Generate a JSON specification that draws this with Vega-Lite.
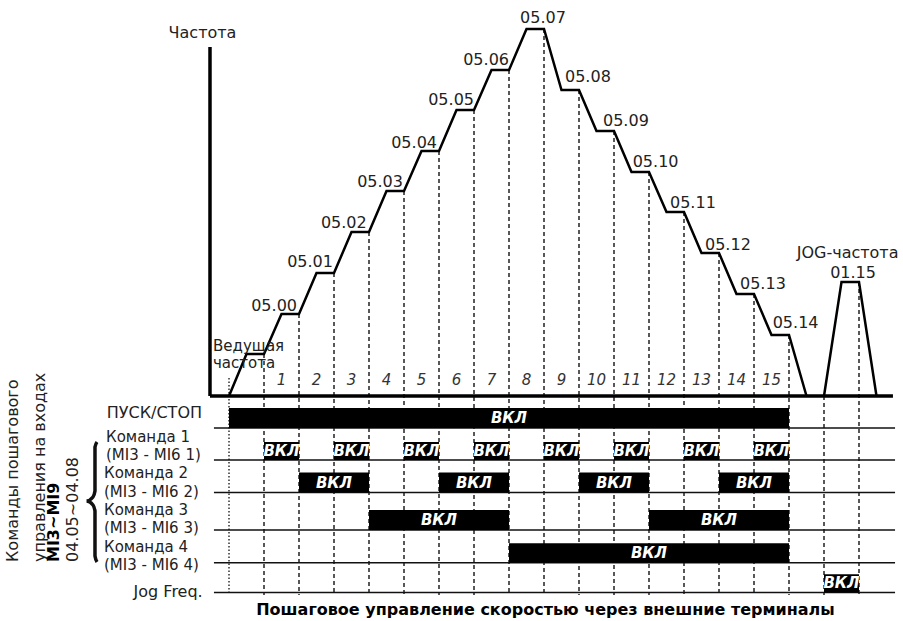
{
  "$schema": "https://vega.github.io/schema/vega-lite/v6.json",
  "width": 903,
  "height": 621,
  "padding": 0,
  "autosize": {"type": "none"},
  "background": "white",
  "config": {"view": {"stroke": null}, "text": {"font": "DejaVu Sans", "color": "#222"}},
  "datasets": {
    "curve": [
      {"s": "main", "t": 0, "v": 0}, {"s": "main", "t": 0.5, "v": 42}, {"s": "main", "t": 1, "v": 42},
      {"s": "main", "t": 1.5, "v": 82}, {"s": "main", "t": 2, "v": 82},
      {"s": "main", "t": 2.5, "v": 123}, {"s": "main", "t": 3, "v": 123},
      {"s": "main", "t": 3.5, "v": 164}, {"s": "main", "t": 4, "v": 164},
      {"s": "main", "t": 4.5, "v": 205}, {"s": "main", "t": 5, "v": 205},
      {"s": "main", "t": 5.5, "v": 245}, {"s": "main", "t": 6, "v": 245},
      {"s": "main", "t": 6.5, "v": 286}, {"s": "main", "t": 7, "v": 286},
      {"s": "main", "t": 7.5, "v": 326}, {"s": "main", "t": 8, "v": 326},
      {"s": "main", "t": 8.5, "v": 367}, {"s": "main", "t": 9, "v": 367},
      {"s": "main", "t": 9.5, "v": 306}, {"s": "main", "t": 10, "v": 306},
      {"s": "main", "t": 10.5, "v": 265}, {"s": "main", "t": 11, "v": 265},
      {"s": "main", "t": 11.5, "v": 224}, {"s": "main", "t": 12, "v": 224},
      {"s": "main", "t": 12.5, "v": 184}, {"s": "main", "t": 13, "v": 184},
      {"s": "main", "t": 13.5, "v": 143}, {"s": "main", "t": 14, "v": 143},
      {"s": "main", "t": 14.5, "v": 102}, {"s": "main", "t": 15, "v": 102},
      {"s": "main", "t": 15.5, "v": 61}, {"s": "main", "t": 16, "v": 61},
      {"s": "main", "t": 16.5, "v": 0},
      {"s": "jog", "t": 17, "v": 0}, {"s": "jog", "t": 17.5, "v": 114}, {"s": "jog", "t": 18, "v": 114}, {"s": "jog", "t": 18.5, "v": 0}
    ],
    "dashed": [
      {"t": 1, "top": 42, "bot": -199}, {"t": 2, "top": 82, "bot": -199}, {"t": 3, "top": 123, "bot": -199},
      {"t": 4, "top": 164, "bot": -199}, {"t": 5, "top": 205, "bot": -199}, {"t": 6, "top": 245, "bot": -199},
      {"t": 7, "top": 286, "bot": -199}, {"t": 8, "top": 326, "bot": -199}, {"t": 9, "top": 367, "bot": -199},
      {"t": 10, "top": 306, "bot": -199}, {"t": 11, "top": 265, "bot": -199}, {"t": 12, "top": 224, "bot": -199},
      {"t": 13, "top": 184, "bot": -199}, {"t": 14, "top": 143, "bot": -199}, {"t": 15, "top": 102, "bot": -199},
      {"t": 16, "top": 61, "bot": -199}, {"t": 17, "top": 0, "bot": -199}, {"t": 18, "top": 114, "bot": -199}
    ],
    "dotted": [{"t": 0, "top": 18, "bot": -199}],
    "rowlines": [
      {"row": "ПУСК/СТОП", "v": -32}, {"row": "Команда 1", "v": -64}, {"row": "Команда 2", "v": -96.5},
      {"row": "Команда 3", "v": -134}, {"row": "Команда 4", "v": -166.7}, {"row": "Jog Freq.", "v": -196.5}
    ],
    "frame": [
      {"t": -0.543, "t2": -0.543, "v": 0, "v2": 349},
      {"t": -0.543, "t2": 18.97, "v": 0, "v2": 0}
    ],
    "bars": [
      {"row": "ПУСК/СТОП", "t0": 0, "t1": 16, "lo": -32, "hi": -12},
      {"row": "Команда 1", "t0": 1, "t1": 2, "lo": -64, "hi": -46},
      {"row": "Команда 1", "t0": 3, "t1": 4, "lo": -64, "hi": -46},
      {"row": "Команда 1", "t0": 5, "t1": 6, "lo": -64, "hi": -46},
      {"row": "Команда 1", "t0": 7, "t1": 8, "lo": -64, "hi": -46},
      {"row": "Команда 1", "t0": 9, "t1": 10, "lo": -64, "hi": -46},
      {"row": "Команда 1", "t0": 11, "t1": 12, "lo": -64, "hi": -46},
      {"row": "Команда 1", "t0": 13, "t1": 14, "lo": -64, "hi": -46},
      {"row": "Команда 1", "t0": 15, "t1": 16, "lo": -64, "hi": -46},
      {"row": "Команда 2", "t0": 2, "t1": 4, "lo": -96.5, "hi": -76.5},
      {"row": "Команда 2", "t0": 6, "t1": 8, "lo": -96.5, "hi": -76.5},
      {"row": "Команда 2", "t0": 10, "t1": 12, "lo": -96.5, "hi": -76.5},
      {"row": "Команда 2", "t0": 14, "t1": 16, "lo": -96.5, "hi": -76.5},
      {"row": "Команда 3", "t0": 4, "t1": 8, "lo": -134, "hi": -114},
      {"row": "Команда 3", "t0": 12, "t1": 16, "lo": -134, "hi": -114},
      {"row": "Команда 4", "t0": 8, "t1": 16, "lo": -166.7, "hi": -147.3},
      {"row": "Jog Freq.", "t0": 17, "t1": 18, "lo": -196.5, "hi": -178.3}
    ],
    "onlabels": [
      {"t": 8, "v": -22, "label": "ВКЛ"},
      {"t": 1.5, "v": -55, "label": "ВКЛ"}, {"t": 3.5, "v": -55, "label": "ВКЛ"}, {"t": 5.5, "v": -55, "label": "ВКЛ"},
      {"t": 7.5, "v": -55, "label": "ВКЛ"}, {"t": 9.5, "v": -55, "label": "ВКЛ"}, {"t": 11.5, "v": -55, "label": "ВКЛ"},
      {"t": 13.5, "v": -55, "label": "ВКЛ"}, {"t": 15.5, "v": -55, "label": "ВКЛ"},
      {"t": 3, "v": -86.5, "label": "ВКЛ"}, {"t": 7, "v": -86.5, "label": "ВКЛ"}, {"t": 11, "v": -86.5, "label": "ВКЛ"}, {"t": 15, "v": -86.5, "label": "ВКЛ"},
      {"t": 6, "v": -124, "label": "ВКЛ"}, {"t": 14, "v": -124, "label": "ВКЛ"},
      {"t": 12, "v": -157, "label": "ВКЛ"},
      {"t": 17.5, "v": -187.4, "label": "ВКЛ"}
    ],
    "brace": [
      {"i": 0, "t": -3.771, "v": -46}, {"i": 1, "t": -3.829, "v": -51}, {"i": 2, "t": -3.829, "v": -95},
      {"i": 3, "t": -3.886, "v": -101}, {"i": 4, "t": -4.071, "v": -105}, {"i": 5, "t": -3.886, "v": -109},
      {"i": 6, "t": -3.829, "v": -115}, {"i": 7, "t": -3.829, "v": -160}, {"i": 8, "t": -3.771, "v": -166}
    ],
    "lblRight": [
      {"t": 1.943, "v": 90, "label": "05.00"}, {"t": 2.971, "v": 134.3, "label": "05.01"},
      {"t": 3.934, "v": 173, "label": "05.02"}, {"t": 4.971, "v": 214.3, "label": "05.03"},
      {"t": 5.943, "v": 253.3, "label": "05.04"}, {"t": 7.0, "v": 296, "label": "05.05"},
      {"t": 8.0, "v": 336, "label": "05.06"}
    ],
    "lblLeft": [
      {"t": 9.6, "v": 319.3, "label": "05.08"}, {"t": 10.686, "v": 275.3, "label": "05.09"},
      {"t": 11.534, "v": 234.3, "label": "05.10"}, {"t": 12.6, "v": 193.3, "label": "05.11"},
      {"t": 13.6, "v": 151, "label": "05.12"}, {"t": 14.6, "v": 112, "label": "05.13"},
      {"t": 15.534, "v": 72.7, "label": "05.14"}, {"t": 16.22, "v": 142.7, "label": "JOG-частота"}
    ],
    "lblCenter": [
      {"t": 8.971, "v": 377.7, "label": "05.07"}, {"t": 17.83, "v": 122.7, "label": "01.15"},
      {"t": -0.757, "v": 363, "label": "Частота"}
    ],
    "lblMaster": [
      {"t": -0.457, "v": 50.3, "label": "Ведущая"}, {"t": -0.457, "v": 33, "label": "частота"}
    ],
    "steps": [
      {"t": 1.5, "v": 16, "label": "1"}, {"t": 2.5, "v": 16, "label": "2"}, {"t": 3.5, "v": 16, "label": "3"},
      {"t": 4.5, "v": 16, "label": "4"}, {"t": 5.5, "v": 16, "label": "5"}, {"t": 6.5, "v": 16, "label": "6"},
      {"t": 7.5, "v": 16, "label": "7"}, {"t": 8.5, "v": 16, "label": "8"}, {"t": 9.5, "v": 16, "label": "9"},
      {"t": 10.5, "v": 16, "label": "10"}, {"t": 11.5, "v": 16, "label": "11"}, {"t": 12.5, "v": 16, "label": "12"},
      {"t": 13.5, "v": 16, "label": "13"}, {"t": 14.5, "v": 16, "label": "14"}, {"t": 15.5, "v": 16, "label": "15"}
    ],
    "rowLabelsLeft": [
      {"t": -3.514, "v": -40.7, "label": "Команда 1"}, {"t": -3.514, "v": -59, "label": "(MI3 - MI6 1)"},
      {"t": -3.571, "v": -77.3, "label": "Команда 2"}, {"t": -3.571, "v": -95.7, "label": "(MI3 - MI6  2)"},
      {"t": -3.571, "v": -114, "label": "Команда 3"}, {"t": -3.571, "v": -132.3, "label": "(MI3 - MI6  3)"},
      {"t": -3.571, "v": -150.7, "label": "Команда 4"}, {"t": -3.571, "v": -169, "label": "(MI3 - MI6  4)"}
    ],
    "rowLabelsRight": [
      {"t": -0.771, "v": -17, "label": "ПУСК/СТОП"}, {"t": -0.751, "v": -195.7, "label": "Jog Freq."}
    ],
    "rotated": [
      {"t": -6.171, "v": -166, "label": "Команды пошагового"},
      {"t": -5.4, "v": -166, "label": "управления на входах"},
      {"t": -4.457, "v": -166, "label": "04.05~04.08"}
    ],
    "rotatedBold": [
      {"t": -5.0, "v": -166, "label": "MI3~MI9"}
    ],
    "title": [
      {"t": 9.043, "v": -214, "label": "Пошаговое управление скоростью через внешние терминалы"}
    ]
  },
  "layer": [
    {
      "data": {"name": "dashed"},
      "mark": {"type": "rule", "color": "#222", "strokeWidth": 1.5, "strokeDash": [4, 3]},
      "encoding": {
        "x": {"field": "t", "type": "quantitative", "scale": {"domain": [-6.542857, 19.257143], "nice": false, "zero": false}, "axis": null},
        "y": {"field": "top", "type": "quantitative", "scale": {"domain": [-225, 396], "nice": false, "zero": false}, "axis": null},
        "y2": {"field": "bot"}
      }
    },
    {
      "data": {"name": "dotted"},
      "mark": {"type": "rule", "color": "#222", "strokeWidth": 1.4, "strokeDash": [1.5, 2]},
      "encoding": {
        "x": {"field": "t", "type": "quantitative"},
        "y": {"field": "top", "type": "quantitative"},
        "y2": {"field": "bot"}
      }
    },
    {
      "data": {"name": "rowlines"},
      "mark": {"type": "rule", "color": "#111", "strokeWidth": 1.6},
      "encoding": {
        "x": {"datum": -0.43, "type": "quantitative"},
        "x2": {"datum": 19.03},
        "y": {"field": "v", "type": "quantitative"}
      }
    },
    {
      "data": {"name": "bars"},
      "mark": {"type": "rect", "color": "#000"},
      "encoding": {
        "x": {"field": "t0", "type": "quantitative"},
        "x2": {"field": "t1"},
        "y": {"field": "lo", "type": "quantitative"},
        "y2": {"field": "hi"}
      }
    },
    {
      "data": {"name": "frame"},
      "mark": {"type": "rule", "color": "#000", "strokeWidth": 3.5},
      "encoding": {
        "x": {"field": "t", "type": "quantitative"},
        "x2": {"field": "t2"},
        "y": {"field": "v", "type": "quantitative"},
        "y2": {"field": "v2"}
      }
    },
    {
      "data": {"name": "curve"},
      "mark": {"type": "line", "color": "#000", "strokeWidth": 2.5},
      "encoding": {
        "x": {"field": "t", "type": "quantitative"},
        "y": {"field": "v", "type": "quantitative"},
        "detail": {"field": "s"}
      }
    },
    {
      "data": {"name": "brace"},
      "mark": {"type": "line", "color": "#111", "strokeWidth": 3.5, "interpolate": "monotone"},
      "encoding": {
        "x": {"field": "t", "type": "quantitative"},
        "y": {"field": "v", "type": "quantitative"},
        "order": {"field": "i"}
      }
    },
    {
      "data": {"name": "onlabels"},
      "mark": {"type": "text", "color": "#fff", "fontSize": 15, "fontWeight": "bold", "fontStyle": "italic", "align": "center", "baseline": "middle"},
      "encoding": {
        "x": {"field": "t", "type": "quantitative"},
        "y": {"field": "v", "type": "quantitative"},
        "text": {"field": "label"}
      }
    },
    {
      "data": {"name": "lblRight"},
      "mark": {"type": "text", "fontSize": 16, "align": "right", "baseline": "middle"},
      "encoding": {
        "x": {"field": "t", "type": "quantitative"},
        "y": {"field": "v", "type": "quantitative"},
        "text": {"field": "label"}
      }
    },
    {
      "data": {"name": "lblLeft"},
      "mark": {"type": "text", "fontSize": 16, "align": "left", "baseline": "middle"},
      "encoding": {
        "x": {"field": "t", "type": "quantitative"},
        "y": {"field": "v", "type": "quantitative"},
        "text": {"field": "label"}
      }
    },
    {
      "data": {"name": "lblCenter"},
      "mark": {"type": "text", "fontSize": 16, "align": "center", "baseline": "middle"},
      "encoding": {
        "x": {"field": "t", "type": "quantitative"},
        "y": {"field": "v", "type": "quantitative"},
        "text": {"field": "label"}
      }
    },
    {
      "data": {"name": "lblMaster"},
      "mark": {"type": "text", "fontSize": 15, "align": "left", "baseline": "middle"},
      "encoding": {
        "x": {"field": "t", "type": "quantitative"},
        "y": {"field": "v", "type": "quantitative"},
        "text": {"field": "label"}
      }
    },
    {
      "data": {"name": "steps"},
      "mark": {"type": "text", "fontSize": 15, "fontStyle": "italic", "align": "center", "baseline": "middle", "color": "#333"},
      "encoding": {
        "x": {"field": "t", "type": "quantitative"},
        "y": {"field": "v", "type": "quantitative"},
        "text": {"field": "label"}
      }
    },
    {
      "data": {"name": "rowLabelsLeft"},
      "mark": {"type": "text", "fontSize": 15, "align": "left", "baseline": "middle"},
      "encoding": {
        "x": {"field": "t", "type": "quantitative"},
        "y": {"field": "v", "type": "quantitative"},
        "text": {"field": "label"}
      }
    },
    {
      "data": {"name": "rowLabelsRight"},
      "mark": {"type": "text", "fontSize": 16, "align": "right", "baseline": "middle"},
      "encoding": {
        "x": {"field": "t", "type": "quantitative"},
        "y": {"field": "v", "type": "quantitative"},
        "text": {"field": "label"}
      }
    },
    {
      "data": {"name": "rotated"},
      "mark": {"type": "text", "fontSize": 16, "angle": 270, "align": "left", "baseline": "middle"},
      "encoding": {
        "x": {"field": "t", "type": "quantitative"},
        "y": {"field": "v", "type": "quantitative"},
        "text": {"field": "label"}
      }
    },
    {
      "data": {"name": "rotatedBold"},
      "mark": {"type": "text", "fontSize": 16, "fontWeight": "bold", "angle": 270, "align": "left", "baseline": "middle", "color": "#000"},
      "encoding": {
        "x": {"field": "t", "type": "quantitative"},
        "y": {"field": "v", "type": "quantitative"},
        "text": {"field": "label"}
      }
    },
    {
      "data": {"name": "title"},
      "mark": {"type": "text", "fontSize": 16, "fontWeight": "bold", "align": "center", "baseline": "middle", "color": "#000"},
      "encoding": {
        "x": {"field": "t", "type": "quantitative"},
        "y": {"field": "v", "type": "quantitative"},
        "text": {"field": "label"}
      }
    }
  ]
}
